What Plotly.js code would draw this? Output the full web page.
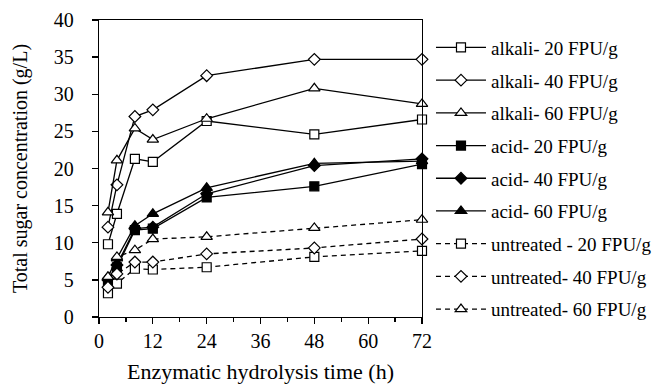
<!DOCTYPE html>
<html>
<head>
<meta charset="utf-8">
<script src="https://cdn.plot.ly/plotly-2.35.2.min.js"></script>
<style>html,body{margin:0;padding:0;background:#fff;}#chart{width:658px;height:392px;}</style>
</head>
<body>
<div id="chart"></div>
<script>
var time = [2, 4, 8, 12, 24, 48, 72];
var seriesNames = ["alkali- 20 FPU/g", "alkali- 40 FPU/g", "alkali- 60 FPU/g",
  "acid- 20 FPU/g", "acid- 40 FPU/g", "acid- 60 FPU/g",
  "untreated - 20 FPU/g", "untreated- 40 FPU/g", "untreated- 60 FPU/g"];
var alkali20 = [9.8, 13.9, 21.3, 20.9, 26.4, 24.6, 26.6];
var alkali40 = [12.1, 17.8, 27.0, 27.9, 32.5, 34.7, 34.7];
var alkali60 = [14.1, 21.1, 25.4, 23.9, 26.7, 30.8, 28.7];
var acid20 = [4.7, 6.7, 11.7, 11.9, 16.1, 17.6, 20.6];
var acid40 = [5.0, 7.0, 11.9, 12.1, 16.6, 20.4, 21.3];
var acid60 = [5.4, 7.9, 12.3, 13.9, 17.4, 20.7, 21.0];
var untreated20 = [3.2, 4.5, 6.5, 6.4, 6.7, 8.1, 8.9];
var untreated40 = [4.0, 5.8, 7.4, 7.4, 8.5, 9.3, 10.5];
var untreated60 = [5.4, 8.1, 9.0, 10.5, 10.8, 12.0, 13.1];
var xTickVals = [0, 12, 24, 36, 48, 60, 72];
var xTickText = ["0", "12", "24", "36", "48", "60", "72"];
var yTickVals = [0, 5, 10, 15, 20, 25, 30, 35, 40];

var values = [alkali20, alkali40, alkali60, acid20, acid40, acid60, untreated20, untreated40, untreated60];
var symbols = ["square", "diamond", "triangle-up", "square", "diamond", "triangle-up", "square", "diamond", "triangle-up"];
var fills = ["#fff", "#fff", "#fff", "#000", "#000", "#000", "#fff", "#fff", "#fff"];
var dashes = ["solid", "solid", "solid", "solid", "solid", "solid", "5px,4px", "5px,4px", "5px,4px"];
var sizes = [9, 9, 10, 9, 9, 10, 9, 9, 10];

var traces = values.map(function (v, i) {
  return {
    x: time, y: v, name: seriesNames[i], type: "scatter", mode: "lines+markers",
    legendgroup: "g" + i,
    line: {color: "#000", width: 1.3, dash: dashes[i]},
    marker: {symbol: symbols[i], size: sizes[i], color: fills[i], line: {color: "#000", width: 1.2}},
    cliponaxis: false
  };
});

var ff = "'Liberation Serif', 'Times New Roman', serif";
var layout = {
  width: 658, height: 392,
  margin: {l: 99, r: 236, t: 20, b: 75},
  paper_bgcolor: "#fff", plot_bgcolor: "#fff",
  font: {family: ff, color: "#000", size: 18},
  showlegend: true,
  legend: {
    xref: "container", yref: "container",
    x: 0.655, xanchor: "left", y: 0.927, yanchor: "top",
    maxheight: 380,
    font: {family: ff, size: 19, color: "#000"},
    tracegroupgap: 5, itemwidth: 50, bgcolor: "rgba(0,0,0,0)"
  },
  xaxis: {
    range: [0, 72], tickvals: xTickVals, ticktext: xTickText, automargin: false,
    ticks: "outside", ticklen: 6, tickwidth: 1.3, tickcolor: "#000",
    minor: {dtick: 6, tick0: 0, ticks: "outside", ticklen: 4, tickcolor: "#000", tickwidth: 1.3, showgrid: false},
    showline: true, linecolor: "#000", linewidth: 1.3, mirror: true,
    showgrid: false, zeroline: false,
    tickfont: {family: ff, size: 20, color: "#000"},
    title: {text: "Enzymatic hydrolysis time (h)", font: {family: ff, size: 22, color: "#000"}, standoff: 12}
  },
  yaxis: {
    range: [0, 40], tickvals: yTickVals, automargin: false,
    ticks: "outside", ticklen: 6, tickwidth: 1.3, tickcolor: "#000",
    ticklabelstandoff: 14,
    showline: true, linecolor: "#000", linewidth: 1.3, mirror: true,
    showgrid: false, zeroline: false,
    tickfont: {family: ff, size: 20, color: "#000"},
    title: {text: "Total sugar concentration (g/L)", font: {family: ff, size: 20, color: "#000"}, standoff: 20}
  }
};
Plotly.newPlot("chart", traces, layout, {displayModeBar: false, staticPlot: true});
</script>
</body>
</html>
